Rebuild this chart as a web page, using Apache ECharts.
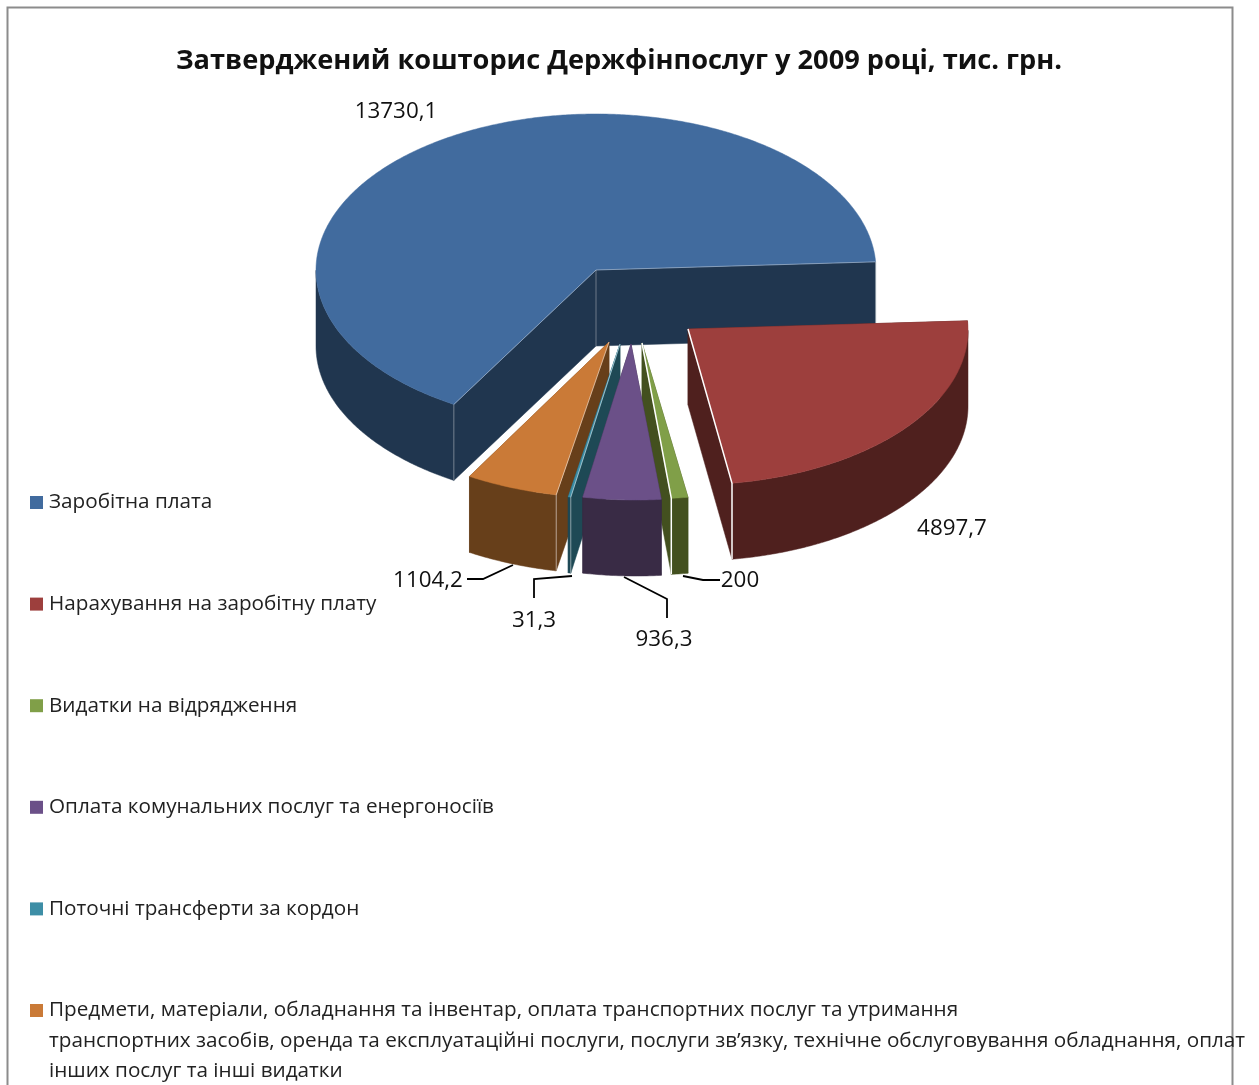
<!DOCTYPE html>
<html>

<head>
<meta charset="utf-8">
<title>ECharts</title>
<script src="https://cdn.jsdelivr.net/npm/echarts@6/dist/echarts.min.js"></script>
<style>
	html, body { margin: 0; padding: 0; background: #fff; }
</style>
</head>

<body>
	<div id="main" style="width: 1259px; height: 1085px;"></div>
	<script type="text/javascript">
		var chartTitle = 'Затверджений кошторис Держфінпослуг у 2009 році, тис. грн.';

		var categories = [
			'Заробітна плата',
			'Нарахування на заробітну плату',
			'Видатки на відрядження',
			'Оплата комунальних послуг та енергоносіїв',
			'Поточні трансферти за кордон',
			'Предмети, матеріали, обладнання та інвентар, оплата транспортних послуг та утримання\nтранспортних засобів, оренда та експлуатаційні послуги, послуги зв’язку, технічне обслуговування обладнання, оплат\nінших послуг та інші видатки'
		];
		var values = [13730.1, 4897.7, 200, 936.3, 31.3, 1104.2];

		// --- drawing settings ---
		var FONT = '"Open Sans", "Noto Sans", sans-serif';
		var topColors = ['#416b9e', '#9d3f3d', '#809f48', '#6b5088', '#3d8ea6', '#ca7a37'];
		var wallColors = ['#20364f', '#4f201e', '#43501f', '#392b45', '#1e4955', '#673f1a'];

		// ellipse of the pie top, first slice start in degrees clockwise from 12 o'clock
		var CX = 596, CY = 270, RX = 280, RY = 156, DEPTH = 76, START_ANGLE = 210.5;

		// how far each slice is pulled out of the pie
		var offsets = [[0, 0], [92, 59], [46, 73], [35, 74], [24, 74], [13, 72]];
		// the 3d view leans the near rim of the pulled out slices a bit to the right
		var lean = [0, 2, 4, 5, 4, 3];
		// green has to be under purple, teal and orange too
		var paintOrder = [0, 1, 2, 5, 4, 3];

		// which cut edge of a slice has the thin light line
		var edges = [
			[{ at: 'start', color: 'rgba(255,255,255,0.35)', width: 1, post: true }, { at: 'end', color: 'rgba(255,255,255,0.35)', width: 1 }],
			[{ at: 'end', color: '#ffffff', width: 1.5 }],
			[{ at: 'end', color: '#ffffff', width: 1.5 }],
			[],
			[{ at: 'start', color: 'rgba(255,255,255,0.5)', width: 1 }],
			[{ at: 'start', color: 'rgba(255,255,255,0.5)', width: 1 }]
		];

		var labelPos = [[396, 112], [952, 529], [740, 581], [664, 640], [534, 621], [428, 581]];
		var leaders = [
			null,
			null,
			[[683, 576], [703, 580], [720, 580]],
			[[624, 577], [667, 599], [667, 618]],
			[[572, 576], [534, 579], [534, 598]],
			[[467, 579], [483, 579], [513, 565]]
		];

		var total = 0;
		for (var i = 0; i < values.length; i++) {
			total += values[i];
		}

		// start and end angle of every slice
		var angles = [];
		var cursor = START_ANGLE;
		for (var i = 0; i < values.length; i++) {
			var sweep = values[i] / total * 360;
			angles.push([cursor, cursor + sweep]);
			cursor += sweep;
		}

		function rimPoint(idx, deg) {
			var rad = deg * Math.PI / 180;
			return [
				CX + offsets[idx][0] + RX * Math.sin(rad) - lean[idx] * Math.cos(rad),
				CY + offsets[idx][1] - RY * Math.cos(rad)
			];
		}

		function down(p) {
			return [p[0], p[1] + DEPTH];
		}

		function poly(points, color) {
			return {
				type: 'polygon',
				silent: true,
				shape: { points: points },
				style: { fill: color, stroke: color, lineWidth: 0.5 }
			};
		}

		function line(points, color, width) {
			return {
				type: 'polyline',
				silent: true,
				shape: { points: points },
				style: { fill: null, stroke: color, lineWidth: width }
			};
		}

		function renderSlice(idx) {
			return function () {
				var a0 = angles[idx][0], a1 = angles[idx][1];
				var apex = [CX + offsets[idx][0], CY + offsets[idx][1]];
				var children = [];
				var arc = [], front = [];
				var steps = Math.max(2, Math.ceil((a1 - a0) * 2));
				for (var s = 0; s <= steps; s++) {
					var deg = a0 + (a1 - a0) * s / steps;
					var p = rimPoint(idx, deg);
					arc.push(p);
					if (Math.cos(deg * Math.PI / 180) <= 0) {
						front.push(p);
					}
				}
				var p0 = arc[0], p1 = arc[arc.length - 1];

				// side walls, then the rim, then the top covers what is behind
				children.push(poly([apex, p0, down(p0), down(apex)], wallColors[idx]));
				children.push(poly([apex, p1, down(p1), down(apex)], wallColors[idx]));
				if (front.length > 1) {
					children.push(poly(front.concat(front.map(down).reverse()), wallColors[idx]));
				}
				children.push(poly([apex].concat(arc), topColors[idx]));

				edges[idx].forEach(function (e) {
					var c = e.at === 'start' ? p0 : p1;
					children.push(line([apex, c, down(c)], e.color, e.width));
					if (e.post) {
						children.push(line([apex, down(apex)], e.color, e.width));
					}
				});

				if (leaders[idx]) {
					children.push(line(leaders[idx], '#000', 1.8));
				}
				children.push({
					type: 'text',
					silent: true,
					style: {
						text: String(values[idx]).replace('.', ','),
						x: labelPos[idx][0],
						y: labelPos[idx][1],
						align: 'center',
						verticalAlign: 'middle',
						fill: '#111',
						fontFamily: FONT,
						fontSize: 22.4
					}
				});
				return { type: 'group', children: children };
			};
		}

		// the long legend name wraps, only its first line is in the legend itself
		var legendNames = categories.map(function (c) {
			return c.split('\n')[0];
		});
		var extraLines = categories[5].split('\n').slice(1);

		var series = [];
		for (var i = 0; i < values.length; i++) {
			series.push({
				name: legendNames[i],
				type: 'custom',
				coordinateSystem: 'none',
				z: 2 + paintOrder.indexOf(i),
				itemStyle: { color: topColors[i] },
				renderItem: renderSlice(i),
				data: [values[i]]
			});
		}

		var graphics = [{
			type: 'polyline',
			silent: true,
			z: -1,
			shape: { points: [[7.5, 1085], [7.5, 7.5], [1232.5, 7.5], [1232.5, 1085]] },
			style: { fill: null, stroke: '#8c8c8c', lineWidth: 2 }
		}];
		extraLines.forEach(function (txt, n) {
			graphics.push({
				type: 'text',
				silent: true,
				style: {
					text: txt,
					x: 49,
					y: 1041 + n * 30,
					verticalAlign: 'middle',
					fill: '#222',
					fontFamily: FONT,
					fontSize: 20.7
				}
			});
		});

		var myChart = echarts.init(document.getElementById('main'));
		myChart.setOption({
			animation: false,
			backgroundColor: '#fff',
			title: {
				text: chartTitle,
				left: 614,
				top: 43,
				textAlign: 'center',
				textStyle: {
					fontFamily: FONT,
					fontWeight: 'bold',
					fontSize: 27.2,
					color: '#111'
				}
			},
			legend: {
				orient: 'vertical',
				left: 30,
				top: 492,
				padding: 0,
				itemWidth: 13,
				itemHeight: 13,
				itemGap: 80.6,
				icon: 'rect',
				selectedMode: false,
				data: legendNames,
				textStyle: {
					fontFamily: FONT,
					fontSize: 20.7,
					color: '#222',
					padding: [0, 0, 0, 1]
				}
			},
			graphic: graphics,
			series: series
		});
	</script>
</body>

</html>
